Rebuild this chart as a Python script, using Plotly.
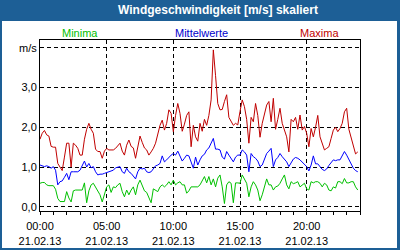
import plotly.graph_objects as go

# 10-minute samples over 21.02.13 (index i -> i*10 minutes)
maxima = [1.70,1.85,1.92,1.81,1.78,1.52,1.50,1.50,1.09,1.00,0.91,1.25,1.60,1.60,1.00,1.60,1.55,1.47,1.30,1.30,
          1.70,1.95,2.10,1.95,1.85,1.45,1.39,1.39,1.22,1.40,1.47,1.43,1.43,1.43,1.47,1.55,1.60,1.40,1.30,1.55,
          1.68,1.52,1.48,1.22,1.55,1.78,1.62,1.48,1.43,1.30,1.38,1.47,1.60,1.85,2.05,2.18,1.93,2.10,2.44,2.35,
          1.89,2.30,2.60,2.35,1.90,2.08,2.30,2.39,1.51,2.05,1.76,1.65,2.10,1.90,2.20,2.05,2.30,2.69,3.95,3.30,
          2.60,2.44,2.45,2.65,2.82,2.25,2.14,2.05,2.10,2.06,2.40,2.69,2.52,2.20,1.60,2.25,2.14,2.60,2.30,1.75,
          2.10,2.35,2.56,2.65,2.14,2.73,1.95,2.20,2.48,2.10,1.90,1.76,1.38,2.20,2.14,2.25,1.95,2.31,1.93,2.02,
          1.85,1.51,1.97,1.76,2.00,2.30,1.76,1.60,1.43,1.47,1.51,1.72,1.93,2.00,1.89,1.97,2.10,2.39,2.48,1.95,
          1.76,1.51,1.33,1.38]
mittel = [1.05,1.03,1.01,1.03,1.01,0.97,1.01,0.92,0.55,0.63,0.65,0.74,0.84,0.68,0.88,0.88,0.88,0.88,0.92,1.02,
          1.15,1.00,1.09,0.98,1.01,0.88,0.80,0.82,0.82,0.84,0.86,0.88,0.88,0.92,0.98,1.00,1.01,0.88,0.84,0.97,
          0.88,0.84,0.76,0.70,0.88,0.97,0.95,0.97,0.88,0.86,0.88,0.97,1.03,1.05,1.09,1.28,1.13,1.18,1.25,1.30,
          1.34,1.30,1.40,1.26,1.15,1.22,1.30,1.28,1.10,0.97,1.25,1.05,1.18,1.28,1.32,1.43,1.48,1.60,1.72,1.45,
          1.45,1.43,1.25,1.20,1.39,1.30,1.22,1.13,1.25,1.30,1.30,1.43,1.38,1.30,0.88,1.34,1.26,1.22,1.15,1.01,
          1.05,1.20,1.34,1.40,1.47,1.01,1.18,1.24,1.34,1.26,1.18,1.13,1.01,1.12,1.20,1.24,1.22,1.18,1.12,1.07,
          1.01,0.90,1.05,1.28,1.08,1.08,1.01,0.94,0.91,0.95,1.04,1.10,1.18,1.16,1.18,1.18,1.28,1.39,1.30,1.18,
          1.07,0.97,0.91,0.88]
minima = [0.59,0.61,0.61,0.55,0.53,0.53,0.53,0.44,0.21,0.13,0.13,0.13,0.38,0.22,0.12,0.40,0.42,0.42,0.42,0.42,
          0.60,0.10,0.40,0.55,0.59,0.50,0.42,0.30,0.12,0.30,0.50,0.55,0.36,0.50,0.48,0.55,0.59,0.38,0.25,0.42,
          0.30,0.42,0.50,0.30,0.55,0.67,0.55,0.40,0.36,0.25,0.10,0.45,0.42,0.38,0.50,0.55,0.50,0.55,0.63,0.55,
          0.67,0.55,0.60,0.63,0.55,0.55,0.34,0.40,0.50,0.50,0.50,0.50,0.55,0.67,0.76,0.60,0.76,0.55,0.70,0.50,
          0.72,0.80,0.50,0.08,0.55,0.63,0.59,0.10,0.60,0.60,0.59,0.80,0.70,0.59,0.25,0.50,0.63,0.55,0.42,0.15,
          0.30,0.50,0.70,0.55,0.55,0.42,0.50,0.52,0.59,0.70,0.80,0.55,0.45,0.63,0.58,0.60,0.63,0.50,0.55,0.59,
          0.45,0.42,0.63,0.60,0.63,0.63,0.59,0.50,0.59,0.55,0.42,0.40,0.50,0.47,0.63,0.63,0.58,0.71,0.60,0.60,
          0.63,0.63,0.50,0.42]

hours = [i / 6 for i in range(len(maxima))]

x_tickvals = [0, 5, 10, 15, 20]
x_ticktext = ["00:00<br>21.02.13", "05:00<br>21.02.13", "10:00<br>21.02.13",
              "15:00<br>21.02.13", "20:00<br>21.02.13"]
y_tickvals = [0, 1, 2, 3, 4]
y_ticktext = ["0,0", "1,0", "2,0", "3,0", "m/s"]

FONT = "Liberation Sans, Arial, sans-serif"
BLUE_FRAME = "#1d5f96"

fig = go.Figure()
fig.add_trace(go.Scatter(x=hours, y=maxima, mode="lines", line=dict(color="#c00000", width=1), name="Maxima"))
fig.add_trace(go.Scatter(x=hours, y=mittel, mode="lines", line=dict(color="#0000ff", width=1), name="Mittelwerte"))
fig.add_trace(go.Scatter(x=hours, y=minima, mode="lines", line=dict(color="#00c000", width=1), name="Minima"))

# plot area: x 40..360 px, y 40..211 px
def px_x(p):
    return (p - 40) / 320
def px_y(p):
    return (211 - p) / 171

fig.add_shape(type="rect", xref="paper", yref="paper", layer="below",
              x0=px_x(2), x1=px_x(397), y0=px_y(248), y1=px_y(21),
              fillcolor="white", line=dict(width=0))

fig.add_annotation(text="<b>Windgeschwindigkeit [m/s] skaliert</b>", xref="paper", yref="paper",
                   x=px_x(218), y=px_y(10.5), showarrow=False, xanchor="center", yanchor="middle",
                   font=dict(family=FONT, size=12, color="white"))
for txt, col, cx in [("Minima", "#00c000", 79.5), ("Mittelwerte", "#0000cc", 201), ("Maxima", "#c00000", 319.5)]:
    fig.add_annotation(text=txt, xref="paper", yref="paper", x=px_x(cx), y=px_y(32.5),
                       showarrow=False, xanchor="center", yanchor="middle",
                       font=dict(family=FONT, size=11, color=col))

fig.update_layout(
    width=400, height=250,
    margin=dict(l=40, r=40, t=40, b=39, autoexpand=False),
    paper_bgcolor=BLUE_FRAME, plot_bgcolor="white",
    showlegend=False,
    font=dict(family=FONT, size=11, color="black"),
    xaxis=dict(range=[0, 24], tickvals=x_tickvals, ticktext=x_ticktext, automargin=False,
               ticks="outside", ticklen=3, tickcolor="black", ticklabelstandoff=2,
               minor=dict(dtick=1, ticks="outside", ticklen=3, tickcolor="black", showgrid=False),
               showgrid=True, gridcolor="black", gridwidth=1, griddash="4px,3px",
               showline=True, linecolor="black", linewidth=1, mirror=True, zeroline=False,
               tickfont=dict(family=FONT, size=11, color="black")),
    yaxis=dict(range=[-0.108, 4.199], tickvals=y_tickvals, ticktext=y_ticktext, automargin=False,
               ticks="", showgrid=True, gridcolor="black", gridwidth=1, griddash="4px,3px",
               showline=True, linecolor="black", linewidth=1, mirror=True, zeroline=False,
               tickfont=dict(family=FONT, size=11, color="black")),
)

fig.write_html("out.html")
